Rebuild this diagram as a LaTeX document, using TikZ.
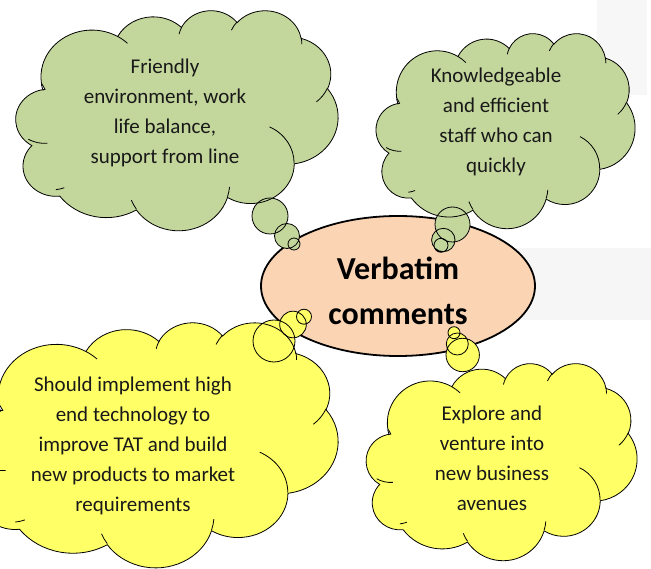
\documentclass[tikz,border=0pt]{standalone}
\usepackage{fontspec}
\setmainfont{Carlito}
\usetikzlibrary{shapes.geometric}

\definecolor{cgreen}{RGB}{195,214,155}
\definecolor{cyellow}{RGB}{255,255,102}
\definecolor{cpeach}{RGB}{251,212,180}

% ---- Office-style cloud outline (43.2 x 43.2 units, y downwards) ----
\newcommand\cldouter{}
\newcommand\cldinner{}
\newcommand\calcarc[4]{%
  \pgfmathsetmacro\cts{atan2((#1)*sin(#3),(#2)*cos(#3))}%
  \pgfmathsetmacro\cte{atan2((#1)*sin((#3)+(#4)),(#2)*cos((#3)+(#4)))}%
  \pgfmathsetmacro\ctd{\cte-\cts}%
  \pgfmathsetmacro\ctd{\ctd-360*round((\ctd-(#4))/360)}%
}
\newcommand\addouter[4]{\calcarc{#1}{#2}{#3}{#4}%
  \xdef\cldouter{\cldouter arc[start angle=\cts, delta angle=\ctd, x radius=#1, y radius=#2]}}
\newcommand\addinner[6]{\calcarc{#3}{#4}{#5}{#6}%
  \xdef\cldinner{\cldinner (#1,#2) arc[start angle=\cts, delta angle=\ctd, x radius=#3, y radius=#4]}}

\addouter{6.753}{9.190}{-190.48748}{123.78053}
\addouter{5.333}{7.267}{-144.10238}{89.94523}
\addouter{4.365}{5.945}{-145.80792}{99.72302}
\addouter{4.857}{6.595}{-130.98607}{117.24173}
\addouter{5.333}{7.273}{-78.70888}{109.02692}
\addouter{6.775}{9.220}{-46.26725}{130.269}
\addouter{5.785}{7.867}{0.62502}{114.03333}
\addouter{6.752}{9.215}{22.4516}{115.17255}
\addouter{7.720}{10.543}{66.24263}{68.11037}
\addouter{4.360}{5.918}{-274.94208}{146.73557}
\addouter{4.345}{5.945}{-246.8285}{152.51885}

\addinner{4.693}{26.177}{4.345}{5.945}{86.742}{26.4295}
\addinner{6.928}{34.899}{4.360}{5.918}{73.61047}{11.44747}
\addinner{16.478}{39.090}{6.752}{9.215}{137.62415}{14.0811}
\addinner{28.827}{34.751}{6.752}{9.215}{6.45327}{15.99835}
\addinner{34.129}{22.954}{5.785}{7.867}{-70.29235}{70.91737}
\addinner{41.798}{15.354}{5.333}{7.273}{30.31803}{27.7515}
\addinner{38.324}{5.426}{4.857}{6.595}{-13.74433}{14.8589}
\addinner{29.078}{3.952}{4.857}{6.595}{-149.18145}{18.19537}
\addinner{22.141}{4.720}{4.365}{5.945}{-163.49427}{17.68635}
\addinner{14.000}{5.192}{6.753}{9.190}{-66.70695}{12.31935}
\addinner{4.127}{15.789}{6.753}{9.190}{154.9726}{10.00335}

% #1 x0, #2 y0, #3 width, #4 height, #5 fill colour, #6 tail circles
\newcommand\drawcloud[6]{%
  \pgfmathsetmacro\cwx{(#3)/43.2}\pgfmathsetmacro\cwy{(#4)/43.2}%
  \begin{scope}[shift={(#1,#2)}, x=\cwx pt, y=-\cwy pt]
    \fill[#5] (3.900,14.370) \cldouter -- cycle;
  \end{scope}
  \fill[#5] #6;
  \begin{scope}[shift={(#1,#2)}, x=\cwx pt, y=-\cwy pt]
    \draw[cloudline] (3.900,14.370) \cldouter -- cycle;
    \draw[cloudline] \cldinner;
  \end{scope}
  \draw[cloudline] #6;
}

\tikzset{
  cloudline/.style={draw=black, line width=0.8pt},
  cloudtext/.style={align=center, font=\fontsize{21}{30}\selectfont, text=black!90},
}

\begin{document}
\begin{tikzpicture}[x=1pt, y=-1pt]
\useasboundingbox (0,0) rectangle (651,569);
\clip (0,0) rectangle (651,569);
\fill[white] (0,0) rectangle (651,569);

% faint background bands
\fill[gray!6] (597,0) rectangle (647,95);
\fill[gray!7] (470,248) rectangle (651,320);

% central ellipse
\node[ellipse, draw=black, line width=1.8pt, fill=cpeach,
      minimum width=274pt, minimum height=140pt, inner sep=0pt] (centre) at (398,286) {};
\node[align=center, font=\fontsize{32}{45}\selectfont\bfseries] (centretext) at (398,291) {Verbatim\\comments};

% clouds
\drawcloud{12}{10}{326}{220}{cgreen}{(270,216) circle (18) (287,236) circle (12.5) (294,244) circle (6)}
\drawcloud{373}{33}{262}{195}{cgreen}{(452.5,224.5) circle (17.5) (443.3,240) circle (11.7) (441,245.3) circle (7)}
\drawcloud{-35}{322}{373}{245}{cyellow}{(274,341) circle (21) (293,324.5) circle (13.3) (304,316.7) circle (7.5)}
\drawcloud{363}{363}{274}{197}{cyellow}{(462.7,355) circle (16.7) (457.3,344) circle (11) (454,332.7) circle (6)}

% texts
\node[cloudtext] (t1) at (165,113) {Friendly\\environment, work\\life balance,\\support from line};
\node[cloudtext] (t2) at (496,122) {Knowledgeable\\and efficient\\staff who can\\quickly};
\node[cloudtext] (t3) at (133,446) {Should implement high\\end technology to\\improve TAT and build\\new products to market\\requirements};
\node[cloudtext] (t4) at (492,458) {Explore and\\venture into\\new business\\avenues};
\end{tikzpicture}
\end{document}
